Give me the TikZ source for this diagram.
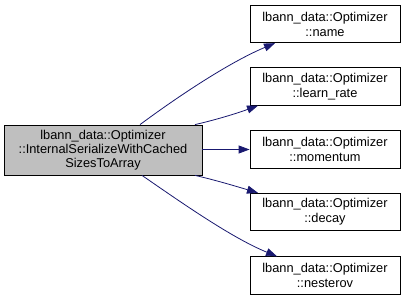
\documentclass[tikz,border=0pt]{standalone}
\usepackage{fontspec}
\setmainfont{Liberation Sans}
\usetikzlibrary{arrows.meta}
\definecolor{edgeblue}{HTML}{191970}
\definecolor{boxgray}{HTML}{BFBFBF}
\begin{document}
\begin{tikzpicture}[x=1pt,y=1pt,
  fn/.style={draw=black, line width=0.8pt, fill=white, minimum width=150pt, minimum height=37.5pt,
    align=center, inner sep=0pt, font=\fontsize{12.8}{15}\selectfont},
  src/.style={fn, fill=boxgray, minimum width=198pt, minimum height=50pt,
    font=\fontsize{12.8}{14.2}\selectfont},
  call/.style={draw=edgeblue, line width=0.8pt, -{Triangle[length=11pt,width=8pt]}, fill=none}]
\useasboundingbox (0,0) rectangle (407,300);
\node[src] (a) at (103,150) {lbann\_data::Optimizer\\::InternalSerializeWithCached\\SizesToArray};
\node[fn] (n1) at (325,276) {lbann\_data::Optimizer\\::name};
\node[fn] (n2) at (325,213.5) {lbann\_data::Optimizer\\::learn\_rate};
\node[fn] (n3) at (325,150.5) {lbann\_data::Optimizer\\::momentum};
\node[fn] (n4) at (325,88) {lbann\_data::Optimizer\\::decay};
\node[fn] (n5) at (325,24.5) {lbann\_data::Optimizer\\::nesterov};
\draw[call] (a.north -| 140,0) .. controls (180,205) and (230,238) .. (n1.south west -| 275,0);
\draw[call] (a.north -| 195,0) .. controls (215,180) and (235,186) .. (n2.south west -| 258,0);
\draw[call] (a.east |- n3) -- (n3.west);
\draw[call] (a.south -| 195,0) .. controls (215,120) and (235,114) .. (n4.north west -| 258,0);
\draw[call] (a.south -| 142,0) .. controls (182,97) and (232,62) .. (n5.north west -| 277,0);
\end{tikzpicture}
\end{document}
